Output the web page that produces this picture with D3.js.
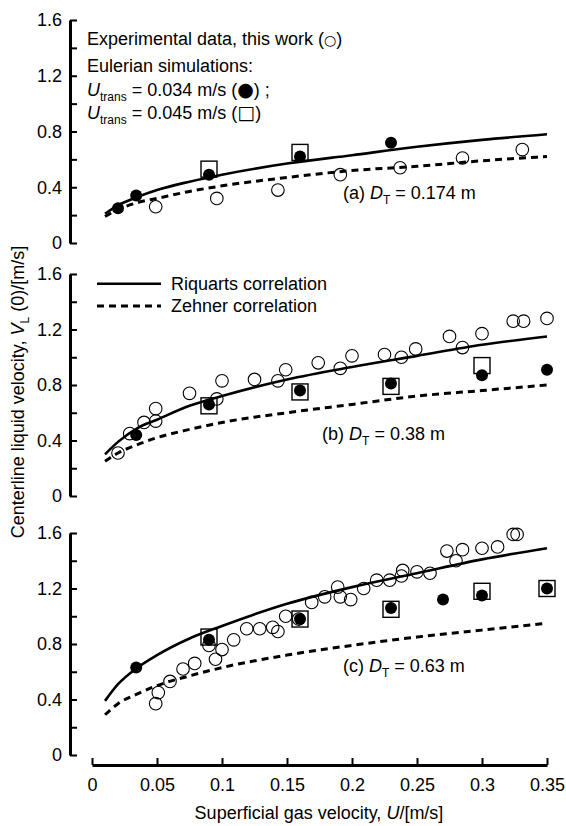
<!DOCTYPE html>
<html>
<head>
<meta charset="utf-8">
<script src="https://cdn.jsdelivr.net/npm/d3@7"></script>
<style>
body { margin: 0; background: #fff; }
text { font-family: "Liberation Sans", Arial, Helvetica, sans-serif; fill: #000; }
</style>
</head>
<body>
<div id="chart"></div>
<script>
var uGrid = [0.01, 0.02, 0.035, 0.05, 0.075, 0.1, 0.15, 0.2, 0.25, 0.3, 0.35];

// (a) DT = 0.174 m
var riqA = [0.21, 0.27, 0.33, 0.38, 0.44, 0.49, 0.57, 0.63, 0.69, 0.74, 0.78];
var zehA = [0.19, 0.24, 0.29, 0.32, 0.37, 0.41, 0.47, 0.52, 0.55, 0.59, 0.62];
var expA_u = [0.049, 0.096, 0.143, 0.191, 0.237, 0.285, 0.331];
var expA_v = [0.26, 0.32, 0.38, 0.49, 0.54, 0.61, 0.67];
var simA1_u = [0.02, 0.034, 0.09, 0.16, 0.23];
var simA1_v = [0.25, 0.34, 0.49, 0.62, 0.72];
var simA2_u = [0.09, 0.16];
var simA2_v = [0.53, 0.65];

// (b) DT = 0.38 m
var riqB = [0.30, 0.39, 0.49, 0.55, 0.65, 0.72, 0.84, 0.93, 1.01, 1.09, 1.15];
var zehB = [0.25, 0.31, 0.37, 0.42, 0.48, 0.53, 0.60, 0.66, 0.72, 0.76, 0.80];
var expB_u = [0.020, 0.029, 0.040, 0.049, 0.049, 0.075, 0.096, 0.100, 0.125, 0.143, 0.149, 0.174,
              0.191, 0.200, 0.225, 0.238, 0.249, 0.275, 0.285, 0.300, 0.324, 0.332, 0.350];
var expB_v = [0.31, 0.45, 0.53, 0.54, 0.63, 0.74, 0.70, 0.83, 0.84, 0.83, 0.91, 0.96,
              0.92, 1.01, 1.02, 1.00, 1.06, 1.15, 1.07, 1.17, 1.26, 1.26, 1.28];
var simB1_u = [0.034, 0.09, 0.16, 0.23, 0.30, 0.35];
var simB1_v = [0.44, 0.66, 0.76, 0.81, 0.87, 0.91];
var simB2_u = [0.09, 0.16, 0.23, 0.30];
var simB2_v = [0.65, 0.75, 0.79, 0.94];

// (c) DT = 0.63 m
var riqC = [0.39, 0.51, 0.63, 0.72, 0.84, 0.93, 1.09, 1.21, 1.31, 1.41, 1.49];
var zehC = [0.29, 0.37, 0.44, 0.50, 0.57, 0.63, 0.72, 0.79, 0.85, 0.90, 0.95];
var expC_u = [0.049, 0.051, 0.060, 0.070, 0.079, 0.090, 0.095, 0.100, 0.109, 0.119, 0.129, 0.139,
              0.143, 0.149, 0.159, 0.169, 0.179, 0.189, 0.191, 0.199, 0.209, 0.219, 0.229, 0.238,
              0.239, 0.250, 0.260, 0.273, 0.280, 0.285, 0.300, 0.312, 0.324, 0.327];
var expC_v = [0.37, 0.45, 0.53, 0.62, 0.66, 0.79, 0.69, 0.76, 0.83, 0.91, 0.91, 0.92,
              0.89, 1.00, 0.98, 1.10, 1.14, 1.21, 1.14, 1.12, 1.20, 1.26, 1.26, 1.29,
              1.33, 1.32, 1.31, 1.47, 1.40, 1.48, 1.49, 1.50, 1.59, 1.59];
var simC1_u = [0.034, 0.09, 0.16, 0.23, 0.27, 0.30, 0.35];
var simC1_v = [0.63, 0.83, 0.98, 1.06, 1.12, 1.15, 1.20];
var simC2_u = [0.09, 0.16, 0.23, 0.30, 0.35];
var simC2_v = [0.85, 0.98, 1.05, 1.18, 1.20];

var xTicks = [0, 0.05, 0.1, 0.15, 0.2, 0.25, 0.3, 0.35];
var yTicks = [0, 0.2, 0.4, 0.6, 0.8, 1.0, 1.2, 1.4, 1.6];
var panelLabels = [["(a) ", "0.174 m"], ["(b) ", "0.38 m"], ["(c) ", "0.63 m"]];

var width = 566, height = 826;
var svg = d3.select("#chart").append("svg")
  .attr("width", width).attr("height", height);

var x = d3.scaleLinear().domain([0, 0.35]).range([92, 547]);

// each panel: pixel range of its y axis, where its label sits
var panels = [
  {range: [243, 20], lab: [0.193, 0.36], riq: riqA, zeh: zehA, eu: expA_u, ev: expA_v, s1u: simA1_u, s1v: simA1_v, s2u: simA2_u, s2v: simA2_v},
  {range: [496, 274], lab: [0.177, 0.45], riq: riqB, zeh: zehB, eu: expB_u, ev: expB_v, s1u: simB1_u, s1v: simB1_v, s2u: simB2_u, s2v: simB2_v},
  {range: [755, 533], lab: [0.193, 0.64], riq: riqC, zeh: zehC, eu: expC_u, ev: expC_v, s1u: simC1_u, s1v: simC1_v, s2u: simC2_u, s2v: simC2_v}
];

var fs = 18;

panels.forEach(function(p, i) {
  var y = d3.scaleLinear().domain([0, 1.6]).range(p.range);
  p.y = y;

  var yaxis = d3.axisLeft(y).tickValues(yTicks).tickSizeInner(-7).tickSizeOuter(0).tickPadding(8)
    .tickFormat(function(d) {
      var k = Math.round(d * 10);
      if (k % 4 !== 0) return "";
      return k === 0 ? "0" : d.toFixed(1);
    });
  var ga = svg.append("g").attr("transform", "translate(70,0)").call(yaxis);
  ga.select(".domain").attr("stroke-width", 3);
  ga.selectAll(".tick line").attr("stroke-width", 2);
  ga.selectAll(".tick text").attr("font-size", fs).attr("font-family", null);

  var line = d3.line()
    .x(function(d, j) { return x(uGrid[j]); })
    .y(function(d) { return y(d); })
    .curve(d3.curveMonotoneX);

  svg.append("path").datum(p.riq).attr("d", line)
    .attr("fill", "none").attr("stroke", "#000").attr("stroke-width", 2.6);
  svg.append("path").datum(p.zeh).attr("d", line)
    .attr("fill", "none").attr("stroke", "#000").attr("stroke-width", 3)
    .attr("stroke-dasharray", "7,5");

  // experimental data (open circles)
  svg.append("g").selectAll("circle").data(p.eu).enter().append("circle")
    .attr("cx", function(d) { return x(d); })
    .attr("cy", function(d, j) { return y(p.ev[j]); })
    .attr("r", 6.3).attr("fill", "none").attr("stroke", "#000").attr("stroke-width", 1.1);

  // Utrans = 0.045 (open squares)
  svg.append("g").selectAll("rect").data(p.s2u).enter().append("rect")
    .attr("x", function(d) { return x(d) - 8; })
    .attr("y", function(d, j) { return y(p.s2v[j]) - 8; })
    .attr("width", 16).attr("height", 16)
    .attr("fill", "none").attr("stroke", "#000").attr("stroke-width", 1.4);

  // Utrans = 0.034 (filled circles)
  svg.append("g").selectAll("circle").data(p.s1u).enter().append("circle")
    .attr("cx", function(d) { return x(d); })
    .attr("cy", function(d, j) { return y(p.s1v[j]); })
    .attr("r", 6).attr("fill", "#000");

  // panel label
  var t = svg.append("text").attr("x", x(p.lab[0])).attr("y", y(p.lab[1]) + 6).attr("font-size", fs);
  t.append("tspan").text(panelLabels[i][0]);
  t.append("tspan").attr("font-style", "italic").text("D");
  t.append("tspan").attr("font-size", 12).attr("dy", 5).text("T");
  t.append("tspan").attr("dy", -5).text(" = " + panelLabels[i][1]);
});

// x axis
var xaxis = d3.axisBottom(x).tickValues(xTicks).tickSizeInner(-7).tickSizeOuter(0).tickPadding(13)
  .tickFormat(function(d) { return d === 0 ? "0" : String(+d.toFixed(2)); });
var gx = svg.append("g").attr("transform", "translate(0,765)").call(xaxis);
gx.select(".domain").attr("stroke-width", 3);
gx.selectAll(".tick line").attr("stroke-width", 2);
gx.selectAll(".tick text").attr("font-size", fs).attr("font-family", null);

svg.append("text").attr("x", 319).attr("y", 819).attr("text-anchor", "middle").attr("font-size", fs)
  .call(function(t) {
    t.append("tspan").text("Superficial gas velocity, ");
    t.append("tspan").attr("font-style", "italic").text("U");
    t.append("tspan").text("/[m/s]");
  });

// y axis title
svg.append("text").attr("transform", "translate(24,392) rotate(-90)").attr("text-anchor", "middle").attr("font-size", fs)
  .call(function(t) {
    t.append("tspan").text("Centerline liquid velocity,  ");
    t.append("tspan").attr("font-style", "italic").text("V");
    t.append("tspan").attr("font-size", 12).attr("dy", 5).text("L");
    t.append("tspan").attr("dy", -5).text(" (0)/[m/s]");
  });

// top legend text
svg.append("text").attr("x", 87).attr("y", 45).attr("font-size", fs)
  .call(function(t) {
    t.append("tspan").text("Experimental data, this work (");
    t.append("tspan").attr("font-family", "DejaVu Sans").attr("font-size", 14).text("○");
    t.append("tspan").text(")");
  });
svg.append("text").attr("x", 87).attr("y", 72).attr("font-size", fs).text("Eulerian simulations:");
[["0.034", "●", ") ;"], ["0.045", "□", ")"]].forEach(function(r, k) {
  var t = svg.append("text").attr("x", 87).attr("y", 96 + k * 23).attr("font-size", fs);
  t.append("tspan").attr("font-style", "italic").text("U");
  t.append("tspan").attr("font-size", 12).attr("dy", 5).text("trans");
  t.append("tspan").attr("dy", -5).text(" = " + r[0] + " m/s (");
  t.append("tspan").attr("font-family", "DejaVu Sans").attr("font-size", 19).text(r[1]);
  t.append("tspan").text(r[2]);
});

// correlation legend in panel (b)
var yb = panels[1].y;
var legItems = [["Riquarts correlation", null, 1.53], ["Zehner correlation", "7,5", 1.37]];
legItems.forEach(function(d) {
  var yy = yb(d[2]);
  svg.append("line").attr("x1", 97).attr("x2", 161).attr("y1", yy).attr("y2", yy)
    .attr("stroke", "#000").attr("stroke-width", d[1] ? 3 : 2.6)
    .attr("stroke-dasharray", d[1]);
  svg.append("text").attr("x", 171).attr("y", yy + 6).attr("font-size", fs).text(d[0]);
});
</script>
</body>
</html>
